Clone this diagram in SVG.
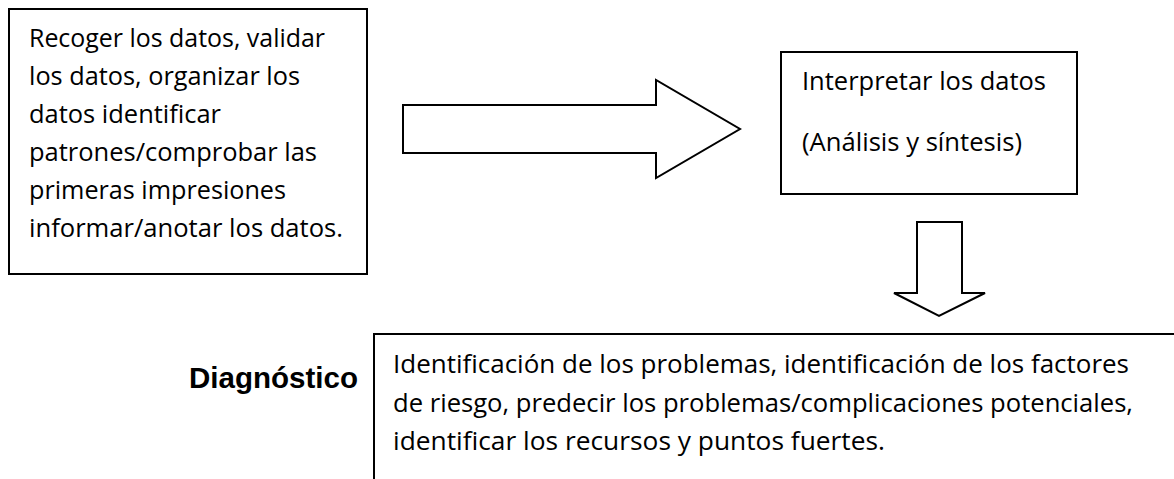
<svg xmlns="http://www.w3.org/2000/svg" width="1174" height="479" viewBox="0 0 1174 479">
<style>
.box{fill:#fff;stroke:#000;stroke-width:2}
.arrow{fill:#fff;stroke:#000;stroke-width:2;stroke-linejoin:miter}
.t{font-family:"Open Sans","Noto Sans","Liberation Sans",sans-serif;font-size:25px;fill:#000}
.b{font-family:"Liberation Sans",Arial,sans-serif;font-size:29.5px;font-weight:bold;fill:#000}
</style>
<rect width="1174" height="479" fill="#fff"/>
<g id="recoger">
<rect class="box" x="9" y="9" width="358" height="265"/>
<text class="t" x="29" y="47" textLength="296" lengthAdjust="spacingAndGlyphs">Recoger los datos, validar</text>
<text class="t" x="29" y="85" textLength="271" lengthAdjust="spacingAndGlyphs">los datos, organizar los</text>
<text class="t" x="29" y="123" textLength="192" lengthAdjust="spacingAndGlyphs">datos identificar</text>
<text class="t" x="29" y="161" textLength="288" lengthAdjust="spacingAndGlyphs">patrones/comprobar las</text>
<text class="t" x="29" y="199" textLength="257" lengthAdjust="spacingAndGlyphs">primeras impresiones</text>
<text class="t" x="29" y="237" textLength="314" lengthAdjust="spacingAndGlyphs">informar/anotar los datos.</text>
</g>
<g id="interpretar">
<rect class="box" x="781" y="52" width="296" height="142"/>
<text class="t" x="802" y="90" textLength="244" lengthAdjust="spacingAndGlyphs">Interpretar los datos</text>
<text class="t" x="802" y="151" textLength="220" lengthAdjust="spacingAndGlyphs">(Análisis y síntesis)</text>
</g>
<g id="diagnostico-label">
<text class="b" x="189" y="388" textLength="169" lengthAdjust="spacingAndGlyphs">Diagnóstico</text>
</g>
<g id="diagnostico">
<rect class="box" x="374" y="334" width="820" height="200"/>
<text class="t" x="393" y="373" textLength="736" lengthAdjust="spacingAndGlyphs">Identificación de los problemas, identificación de los factores</text>
<text class="t" x="393" y="412" textLength="740" lengthAdjust="spacingAndGlyphs">de riesgo, predecir los problemas/complicaciones potenciales,</text>
<text class="t" x="393" y="450" textLength="492" lengthAdjust="spacingAndGlyphs">identificar los recursos y puntos fuertes.</text>
</g>
<g id="connectors">
<polygon class="arrow" points="403,105 656,105 656,80 740,129 656,178 656,153 403,153"/>
<polygon class="arrow" points="917,222 962,222 962,293 985,293 939,316 894,293 917,293"/>
</g>
</svg>
